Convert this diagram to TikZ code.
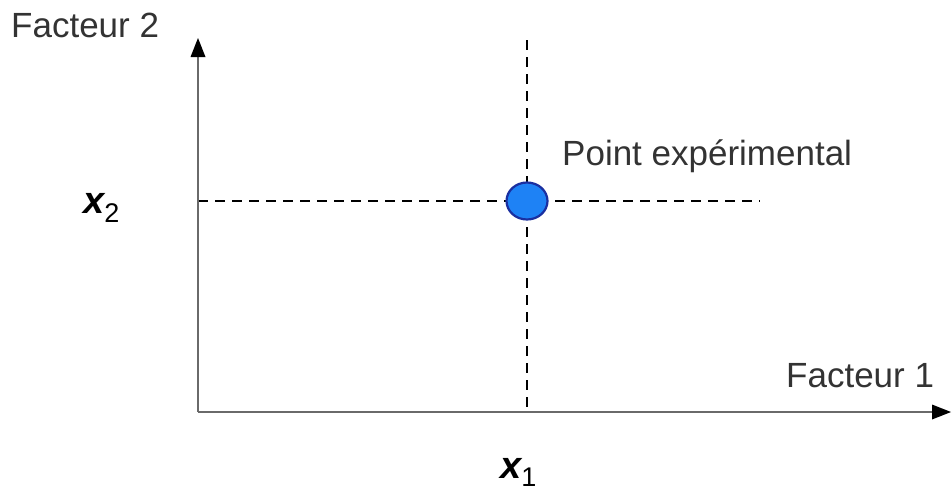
\documentclass[tikz,border=0pt]{standalone}
\usepackage{fontspec}
\setmainfont{Liberation Sans}
\usetikzlibrary{arrows.meta,shapes.geometric}
\definecolor{ptfill}{HTML}{1E82F5}
\definecolor{ptdraw}{HTML}{1A2FA0}
\definecolor{axisgray}{HTML}{6A6A6A}
\tikzset{
  bigtip/.tip={Triangle[length=19pt,width=15pt,line width=0pt,color=black]},
  axisline/.style={line width=2.6pt,draw=axisgray,-bigtip},
  guide/.style={line width=1.4pt,dash pattern=on 10pt off 7pt},
  lbl/.style={inner sep=0pt,font=\fontsize{35}{40}\selectfont,text=black!80},
  varlbl/.style={inner sep=0pt,font=\fontsize{38}{42}\selectfont\bfseries\itshape},
}
\newcommand{\subsc}[1]{{\fontsize{27}{30}\selectfont\mdseries\upshape #1}}
\begin{document}
\begin{tikzpicture}[x=1pt,y=-1pt]
\useasboundingbox (0,0) rectangle (952,490);
\coordinate (O) at (198,412);
\coordinate (ytip) at (198,38);
\coordinate (xtip) at (951,412);
\coordinate (vtop) at (527,40);
\coordinate (vbot) at (527,412);
\coordinate (hleft) at (198,201);
\coordinate (hright) at (760,201);
\draw[guide] (vtop) -- (vbot);
\draw[guide] (hleft) -- (hright);
\draw[axisline] (O) -- (ytip);
\draw[axisline] (O) -- (xtip);
\node[ellipse,draw=ptdraw,line width=2.2pt,fill=ptfill,minimum width=41pt,minimum height=37pt,inner sep=0pt] (pt) at (527,201) {};
\node[lbl,anchor=base west] (fac2) at (11,37) {Facteur 2};
\node[lbl,anchor=base west] (fac1) at (786,387) {Facteur 1};
\node[lbl,anchor=base west] (ptlbl) at (562,165) {Point expérimental};
\node[varlbl,anchor=base west] (x2) at (83,213) {x\raisebox{-9pt}{\subsc{2}}};
\node[varlbl,anchor=base west] (x1) at (500,478) {x\raisebox{-8pt}{\subsc{1}}};
\end{tikzpicture}
\end{document}
